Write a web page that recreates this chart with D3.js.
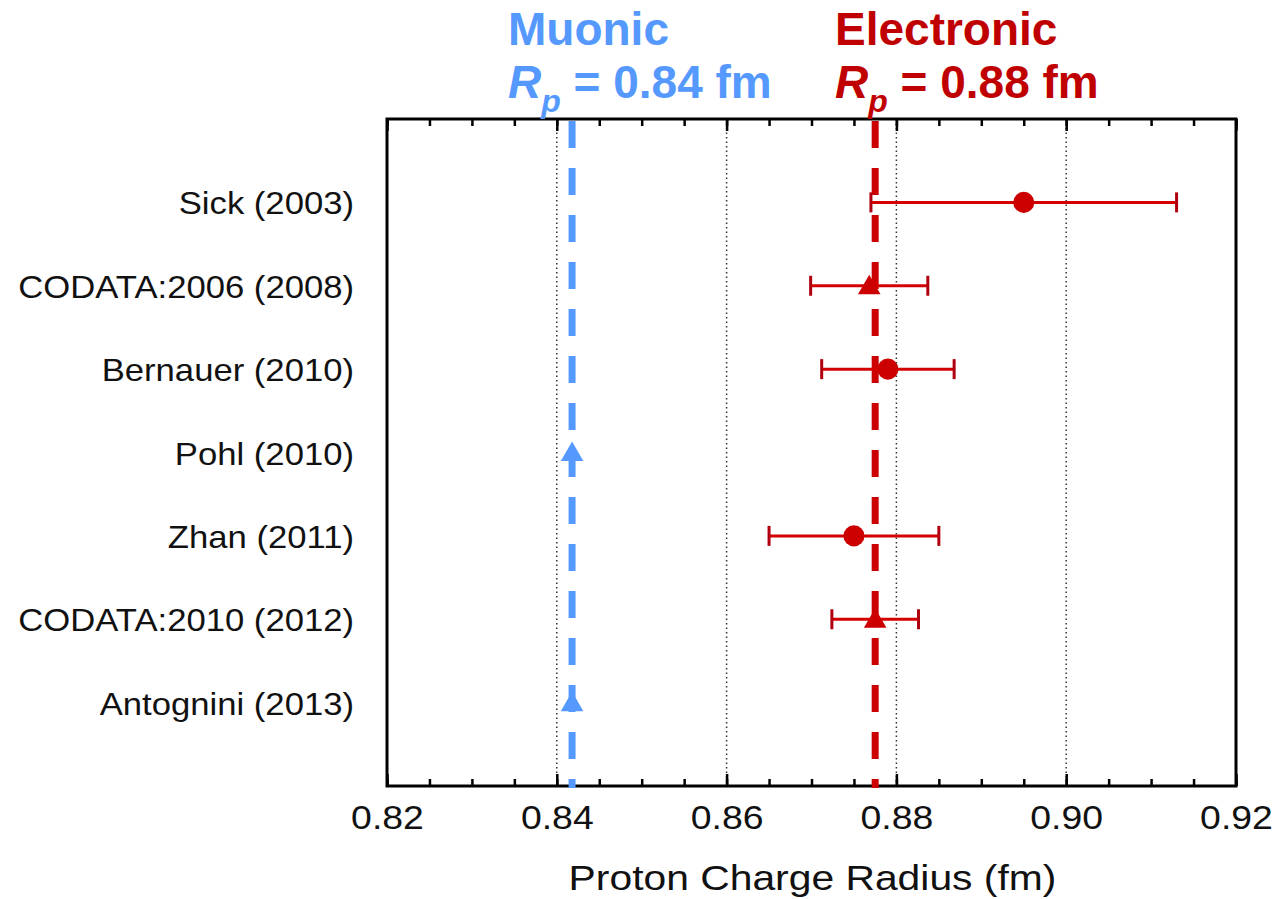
<!DOCTYPE html>
<html>
<head>
<meta charset="utf-8">
<script src="https://cdn.jsdelivr.net/npm/d3@7"></script>
<style>
  body { margin: 0; background: #fff; }
  text { font-family: "Liberation Sans", Arial, Helvetica, sans-serif; }
</style>
</head>
<body>
<div class="radius-plot"></div>
<script>
const labels = ['Sick (2003)', 'CODATA:2006 (2008)', 'Bernauer (2010)', 'Pohl (2010)',
                'Zhan (2011)', 'CODATA:2010 (2012)', 'Antognini (2013)'];
const values = [0.895, 0.8768, 0.879, 0.8418, 0.875, 0.8775, 0.8418];
const errors = [0.018, 0.0069, 0.0078, 0, 0.010, 0.0051, 0];
const shapes = ['circle', 'triangle', 'circle', 'triangle', 'circle', 'triangle', 'triangle'];
const kinds  = ['e', 'e', 'e', 'mu', 'e', 'e', 'mu'];

const majorTicks = [0.82, 0.84, 0.86, 0.88, 0.90, 0.92];
const gridTicks = [0.84, 0.86, 0.88, 0.90];
const minorTicks = d3.range(0, 21).map(i => 0.82 + i * 0.005);

const muonicR = 0.8418;
const electronicR = 0.8775;

const blue = '#5599ff';
const red = '#cc0000';

const data = labels.map((l, i) => ({label: l, value: values[i], err: errors[i], shape: shapes[i], kind: kinds[i]}));

const width = 1278;
const height = 899;
const pLeft = 387, pRight = 1236, pTop = 119, pBottom = 786;

const svg = d3.select('.radius-plot')
    .append('svg')
    .attr('width', width)
    .attr('height', height);

const x = d3.scaleLinear().domain([0.82, 0.92]).range([pLeft, pRight]);
const y = d3.scalePoint().domain(labels).range([pTop, pBottom]).padding(1);

// dotted grid
svg.selectAll('line.grid')
    .data(gridTicks)
    .enter()
    .append('line')
    .attr('class', 'grid')
    .attr('x1', d => x(d)).attr('x2', d => x(d))
    .attr('y1', pTop).attr('y2', pBottom)
    .attr('stroke', '#333')
    .attr('stroke-width', 1.5)
    .attr('stroke-dasharray', '1.5,3');

// ticks, inward, top and bottom
const bottomMinor = d3.axisBottom(x).tickValues(minorTicks).tickSize(-7).tickFormat('');
const topMinor = d3.axisTop(x).tickValues(minorTicks).tickSize(-7).tickFormat('');
const bottomMajor = d3.axisBottom(x).tickValues(majorTicks).tickSize(-12).tickPadding(19).tickFormat(d3.format('.2f'));
const topMajor = d3.axisTop(x).tickValues(majorTicks).tickSize(-12).tickFormat('');

[[bottomMinor, pBottom], [topMinor, pTop], [bottomMajor, pBottom], [topMajor, pTop]].forEach(([ax, yy]) => {
    const g = svg.append('g').attr('transform', `translate(0,${yy})`).call(ax);
    g.select('.domain').remove();
    g.selectAll('.tick line').attr('stroke', '#000').attr('stroke-width', 2.5);
});

svg.selectAll('.tick text')
    .attr('font-size', 34)
    .attr('fill', '#111')
    .attr('transform', 'scale(1.1,1)');

// frame
svg.append('rect')
    .attr('x', pLeft).attr('y', pTop)
    .attr('width', pRight - pLeft).attr('height', pBottom - pTop)
    .attr('fill', 'none')
    .attr('stroke', '#000')
    .attr('stroke-width', 3);

// reference lines
svg.selectAll('line.ref')
    .data([[muonicR, blue], [electronicR, red]])
    .enter()
    .append('line')
    .attr('class', 'ref')
    .attr('x1', d => x(d[0])).attr('x2', d => x(d[0]))
    .attr('y1', pTop + 2).attr('y2', pBottom + 2)
    .attr('stroke', d => d[1])
    .attr('stroke-width', 7)
    .attr('stroke-dasharray', '27,20');

// error bars
const withErr = data.filter(d => d.err > 0);
svg.selectAll('line.err')
    .data(withErr)
    .enter()
    .append('line')
    .attr('class', 'err')
    .attr('x1', d => x(d.value - d.err)).attr('x2', d => x(d.value + d.err))
    .attr('y1', d => y(d.label)).attr('y2', d => y(d.label))
    .attr('stroke', '#d40000')
    .attr('stroke-width', 3);

svg.selectAll('line.cap')
    .data(withErr.flatMap(d => [d.value - d.err, d.value + d.err].map(v => ({v, label: d.label}))))
    .enter()
    .append('line')
    .attr('class', 'cap')
    .attr('x1', d => x(d.v)).attr('x2', d => x(d.v))
    .attr('y1', d => y(d.label) - 10).attr('y2', d => y(d.label) + 10)
    .attr('stroke', '#b00010')
    .attr('stroke-width', 3);

// markers
svg.selectAll('path.mark')
    .data(data)
    .enter()
    .append('path')
    .attr('class', 'mark')
    .attr('transform', d => `translate(${x(d.value)},${y(d.label) + (d.shape === 'triangle' ? 2 : 0)})`)
    .attr('d', d => d3.symbol()
        .type(d.shape === 'circle' ? d3.symbolCircle : d3.symbolTriangle)
        .size(d.shape === 'circle' ? 350 : 220)())
    .attr('fill', d => d.kind === 'mu' ? blue : red);

// category labels
svg.selectAll('text.cat')
    .data(labels)
    .enter()
    .append('text')
    .attr('class', 'cat')
    .attr('transform', d => `translate(354,${y(d) + 12}) scale(1.1,1)`)
    .attr('text-anchor', 'end')
    .attr('font-size', 31.5)
    .attr('fill', '#111')
    .text(d => d);

// axis title
svg.append('text')
    .attr('transform', `translate(${(pLeft + pRight) / 2 + 1},${890}) scale(1.15,1)`)
    .attr('text-anchor', 'middle')
    .attr('font-size', 35.5)
    .attr('fill', '#111')
    .text('Proton Charge Radius (fm)');

// headers
function header(xx, name, val, color) {
    svg.append('text')
        .attr('x', xx).attr('y', 45)
        .attr('font-size', 46).attr('font-weight', 'bold')
        .attr('fill', color)
        .text(name);
    const t = svg.append('text')
        .attr('x', xx).attr('y', 98)
        .attr('font-size', 46).attr('font-weight', 'bold')
        .attr('fill', color);
    t.append('tspan').attr('font-style', 'italic').text('R');
    t.append('tspan').attr('font-style', 'italic').attr('font-size', 32).attr('dy', 14).text('p');
    t.append('tspan').attr('dy', -14).text(' = ' + val + ' fm');
}
header(508, 'Muonic', '0.84', blue);
header(835, 'Electronic', '0.88', '#c00000');
</script>
</body>
</html>
